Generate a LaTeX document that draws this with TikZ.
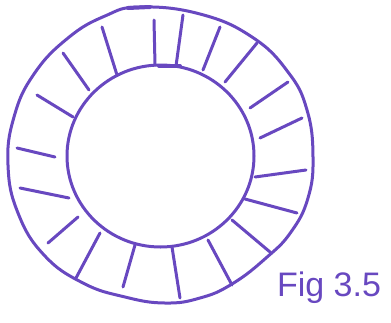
\documentclass[tikz,border=0pt]{standalone}
\usepackage{fontspec}
\setmainfont{Liberation Sans}
\definecolor{ink}{RGB}{104,72,192}
\begin{document}
\begin{tikzpicture}[x=1pt,y=-1pt,
  pen/.style={draw=ink,line width=3pt,line cap=round,line join=round},
  tick/.style={pen}]
\useasboundingbox (0,0) rectangle (391,322);
% outer ring
\draw[pen] plot[smooth cycle,tension=0.75] coordinates{
 (140,7) (200,14) (252,37) (288,72) (307,110) (313,157) (308,198)
 (291,232) (266,258) (232,284) (200,298) (165,303) (125,297) (83,283)
 (44,255) (18,213) (8,165) (14,117) (34,74) (68,38) (105,16)};
% retrace at top
\draw[pen,line width=4pt] (128,8) -- (150,7);
% inner ring
\draw[pen] (160.5,156) ellipse [x radius=93.5, y radius=91];
\draw[pen,line width=4pt] (159,66) -- (180,66);
% ticks
\coordinate (a1) at (154,20);  \coordinate (b1) at (155,65);
\coordinate (a2) at (183,15);  \coordinate (b2) at (176,66);
\coordinate (a3) at (220,27);  \coordinate (b3) at (203,70);
\coordinate (a4) at (257,43);  \coordinate (b4) at (225,82);
\coordinate (a5) at (288,82);  \coordinate (b5) at (250,108);
\coordinate (a6) at (302,118); \coordinate (b6) at (260,138);
\coordinate (a7) at (306,170); \coordinate (b7) at (255,177);
\coordinate (a8) at (297,213); \coordinate (b8) at (245,199);
\coordinate (a9) at (270,252); \coordinate (b9) at (232,220);
\coordinate (a10) at (232,285); \coordinate (b10) at (208,240);
\coordinate (a11) at (180,298); \coordinate (b11) at (172,247);
\coordinate (a12) at (123,287); \coordinate (b12) at (135,245);
\coordinate (a13) at (76,278);  \coordinate (b13) at (100,233);
\coordinate (a14) at (48,243);  \coordinate (b14) at (78,217);
\coordinate (a15) at (20,188);  \coordinate (b15) at (69,198);
\coordinate (a16) at (17,148);  \coordinate (b16) at (55,157);
\coordinate (a17) at (37,95);   \coordinate (b17) at (73,117);
\coordinate (a18) at (63,53);   \coordinate (b18) at (89,90);
\coordinate (a19) at (102,27);  \coordinate (b19) at (117,75);
\foreach \i in {1,...,19} \draw[tick] (a\i) -- (b\i);
% label
\node[text=ink,font=\fontsize{34}{36}\selectfont,inner sep=0pt] (lbl) at (329,288) {Fig 3.5};
\end{tikzpicture}
\end{document}
